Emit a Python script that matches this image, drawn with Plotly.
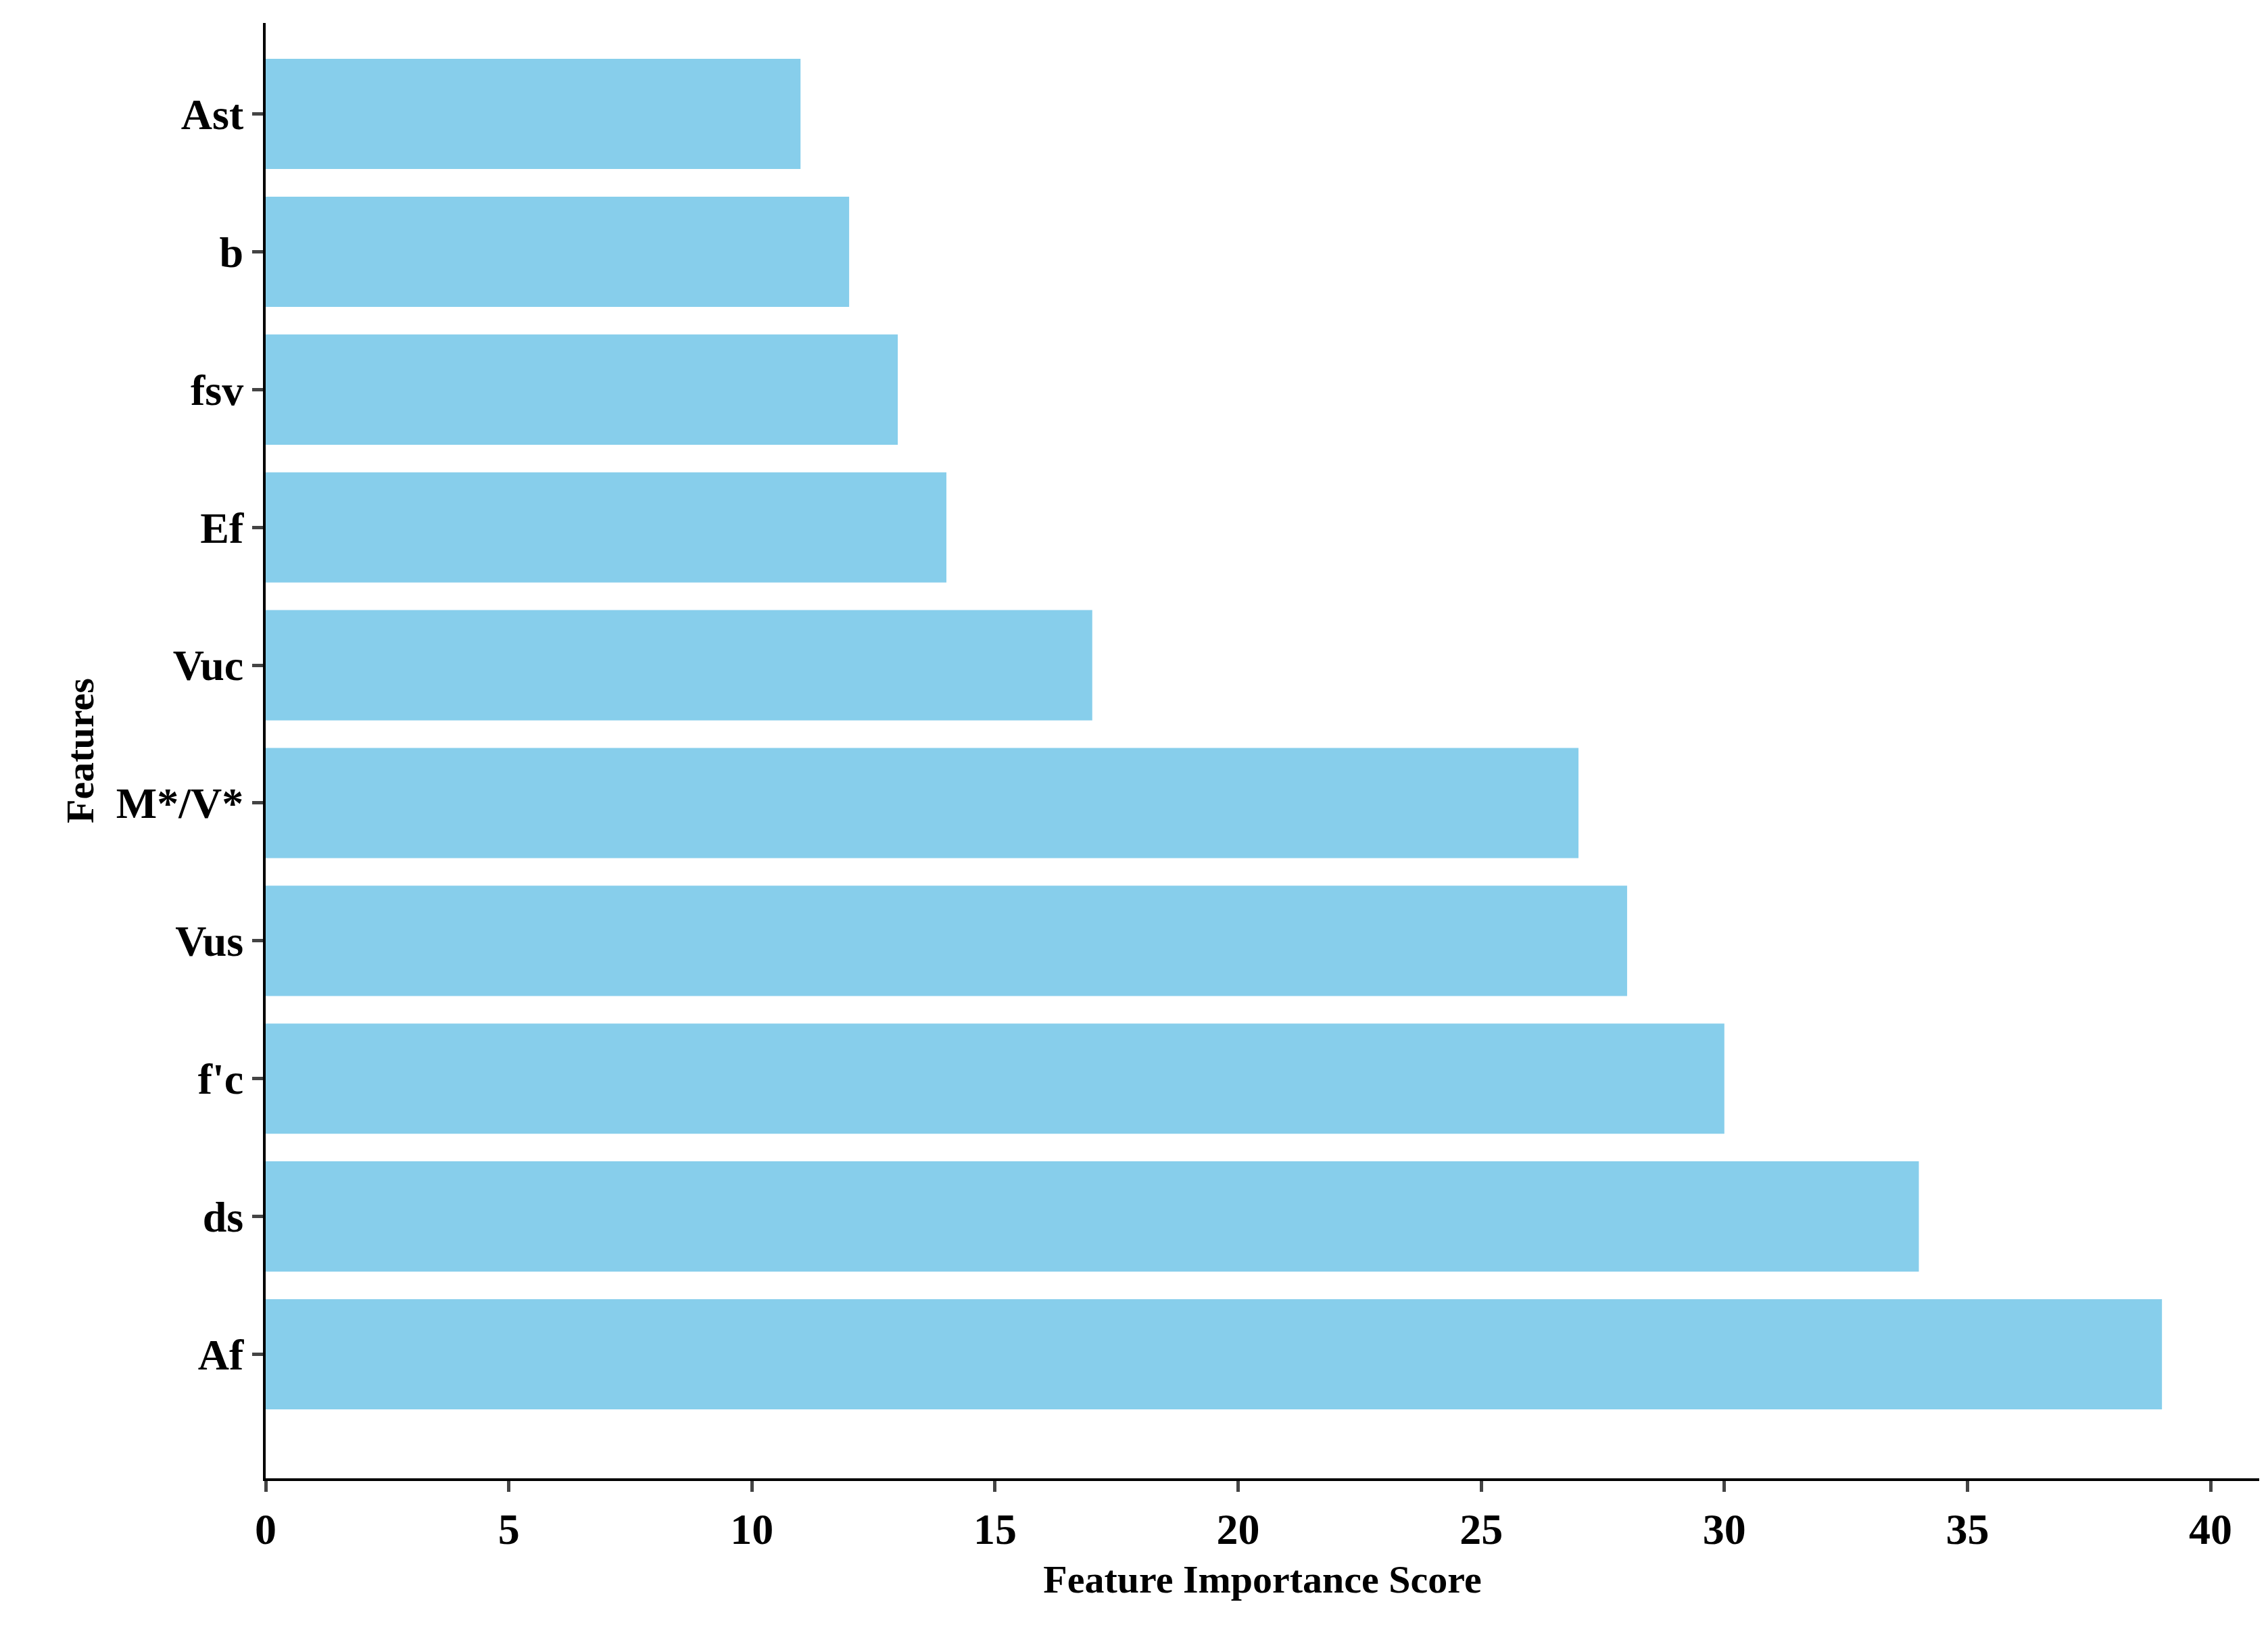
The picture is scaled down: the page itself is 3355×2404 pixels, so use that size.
import plotly.graph_objects as go

features = ["Af", "ds", "f'c", "Vus", "M*/V*", "Vuc", "Ef", "fsv", "b", "Ast"]
scores = [39, 34, 30, 28, 27, 17, 14, 13, 12, 11]
xticks = [0, 5, 10, 15, 20, 25, 30, 35, 40]

fig = go.Figure(go.Bar(x=scores, y=list(range(len(features))), orientation="h",
                       marker=dict(color="#87CEEB", line=dict(width=0)), width=0.8))
font = "Liberation Serif"
fig.update_layout(
    width=3355, height=2404, plot_bgcolor="white", paper_bgcolor="white",
    margin=dict(l=385, r=21, t=26, b=225), showlegend=False,
    font=dict(family=font, color="black"),
)
fig.update_xaxes(range=[0, 41], tickvals=xticks, ticks="outside", ticklen=16, tickwidth=5,
                 showline=True, linewidth=4, linecolor="black", showgrid=False, zeroline=False,
                 tickfont=dict(family=font, size=64, weight="bold"),
                 title=dict(text="<b>Feature Importance Score</b>", font=dict(family=font, size=58), standoff=20))
fig.update_yaxes(range=[-0.9, 9.66], tickvals=list(range(len(features))), ticktext=[f"<b>{f}</b>" for f in features],
                 ticks="outside", ticklen=16, tickwidth=5, showline=True, linewidth=4, linecolor="black",
                 showgrid=False, zeroline=False, tickfont=dict(family=font, size=64),
                 title=dict(text="<b>Features</b>", font=dict(family=font, size=58), standoff=15))
fig.write_html("out.html")
